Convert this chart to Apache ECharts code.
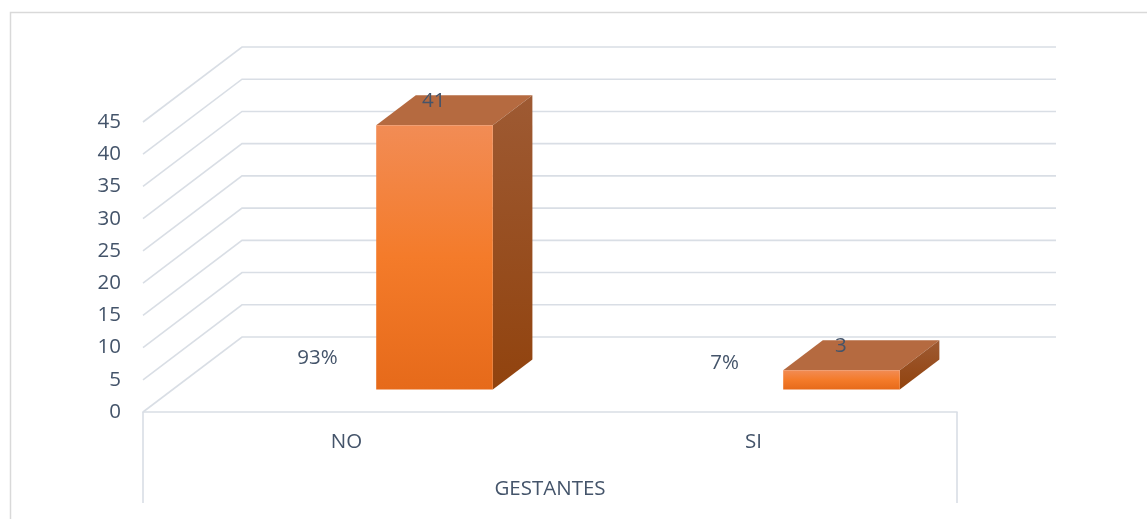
<!DOCTYPE html>
<html>
<head>
<meta charset="utf-8">
<script src="https://cdn.jsdelivr.net/npm/echarts@6/dist/echarts.min.js"></script>
<style>
html,body{margin:0;padding:0;background:#fff;}
#c{width:1147px;height:519px;}
</style>
</head>
<body>
<div id="c"></div>
<script>
// ---- data ----
const categories = ['NO', 'SI'];
const outerCategory = ['GESTANTES'];
const counts = [41, 3];
const percents = [93, 7];
const yTicks = [0, 5, 10, 15, 20, 25, 30, 35, 40, 45];

// ---- projection / style constants ----
const DX = 99, DY = 75;          // depth offset of the back wall
const F0 = 0.30, F1 = 0.70;      // bar depth range (fraction of depth)
const BAR_W = 0.2865;            // bar width as fraction of category width
const TXT = '#44546A';
const GRID = '#D9DEE5';
const FONT = 'Open Sans';
const FS = 20.5;

const chart = echarts.init(document.getElementById('c'), null, {renderer: 'canvas'});

function gridRender(params, api) {
  const cs = params.coordSys;
  const y = api.coord([0, api.value(0)])[1];
  return {
    type: 'polyline',
    shape: {points: [[cs.x, y], [cs.x + DX, y - DY], [cs.x + cs.width + DX, y - DY]]},
    style: {stroke: GRID, lineWidth: 1.6, fill: null},
    silent: true
  };
}

function barRender(params, api) {
  const cat = api.value(0), v = api.value(1);
  const c0 = api.coord([cat, 0]);
  const cv = api.coord([cat, v]);
  const bw = api.size([1, 0])[0] * BAR_W;
  const x0 = c0[0];
  const ax = DX * F0, ay = -DY * F0, bx = DX * F1, by = -DY * F1;
  const yTop = cv[1], yBot = c0[1];
  return {
    type: 'group',
    children: [
      { type: 'polygon',
        shape: {points: [[x0 + ax, yTop + ay], [x0 + bx, yTop + by], [x0 + bx + bw, yTop + by], [x0 + ax + bw, yTop + ay]]},
        style: {fill: '#B56A40'} },
      { type: 'polygon',
        shape: {points: [[x0 + ax + bw, yTop + ay], [x0 + bx + bw, yTop + by], [x0 + bx + bw, yBot + by], [x0 + ax + bw, yBot + ay]]},
        style: {fill: new echarts.graphic.LinearGradient(0, 0, 0, 1, [
          {offset: 0, color: '#9E5A33'}, {offset: 1, color: '#91430E'}])} },
      { type: 'rect',
        shape: {x: x0 + ax, y: yTop + ay, width: bw, height: yBot - yTop},
        style: {fill: new echarts.graphic.LinearGradient(0, 0, 0, 1, [
          {offset: 0, color: '#F28C55'}, {offset: 0.5, color: '#F47B2A'}, {offset: 1, color: '#E66A1A'}])} },
      { type: 'text',
        style: {text: String(v), x: x0 + bx + 18, y: yTop + by + 6, align: 'center', verticalAlign: 'middle',
          fill: TXT, font: FS + 'px "' + FONT + '"'} }
    ]
  };
}

function pctRender(params, api) {
  const cat = api.value(0), p = api.value(1);
  const c = api.coord([cat, p / 100]);
  return {
    type: 'text',
    style: {text: p + '%', x: c[0] - 29, y: c[1] - 48, align: 'center', verticalAlign: 'middle',
      fill: TXT, font: FS + 'px "' + FONT + '"'}
  };
}

const option = {
  animation: false,
  backgroundColor: '#fff',
  textStyle: {fontFamily: FONT},
  graphic: [{
    type: 'rect', shape: {x: 10.5, y: 12.5, width: 1150, height: 520},
    style: {fill: null, stroke: '#D9D9D9', lineWidth: 1.5}, silent: true, z: -10
  }],
  grid: {left: 143, right: 190, top: 122, bottom: 107},
  xAxis: [{
    type: 'category', data: categories, position: 'bottom',
    axisLine: {show: true, lineStyle: {color: GRID, width: 1.6}},
    axisTick: {show: false},
    axisLabel: {color: TXT, fontSize: FS, fontFamily: FONT, margin: 20},
    splitLine: {show: false}
  }, {
    type: 'category', data: outerCategory, position: 'bottom',
    axisLine: {show: false},
    axisTick: {show: true, length: 91, lineStyle: {color: GRID, width: 1.6}},
    axisLabel: {color: TXT, fontSize: FS, fontFamily: FONT, margin: 67},
    splitLine: {show: false}
  }],
  yAxis: {
    type: 'value', min: 0, max: 45, interval: 5,
    axisLine: {show: false}, axisTick: {show: false}, splitLine: {show: false},
    axisLabel: {color: TXT, fontSize: FS, fontFamily: FONT, margin: 22}
  },
  series: [{
    type: 'custom', name: 'grid', renderItem: gridRender, xAxisIndex: 0,
    data: yTicks.map(v => [v]), encode: {y: 0}, z: 1, silent: true
  }, {
    type: 'custom', name: 'count', renderItem: barRender, xAxisIndex: 0,
    data: categories.map((c, i) => [i, counts[i]]), encode: {x: 0, y: 1}, z: 5
  }, {
    type: 'custom', name: 'pct', renderItem: pctRender, xAxisIndex: 0,
    data: categories.map((c, i) => [i, percents[i]]), encode: {x: 0, y: 1}, z: 6
  }]
};
chart.setOption(option);
</script>
</body>
</html>
